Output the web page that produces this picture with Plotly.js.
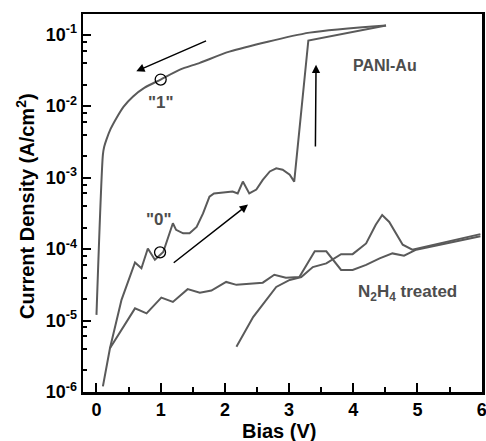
<!DOCTYPE html>
<html>
<head>
<meta charset="utf-8">
<script src="https://cdn.plot.ly/plotly-3.0.1.min.js"></script>
<style>html,body{margin:0;padding:0;background:#fff;}#chart{width:486px;height:441px;}</style>
</head>
<body>
<div id="chart"></div>
<script>
// PANI-Au forward sweep ("0" state, then switching to "1")
const paniFwdV = [0.10,0.21,0.39,0.60,0.70,0.80,0.91,1.04,1.19,1.24,1.35,1.45,1.56,1.66,1.76,1.83,2.12,2.20,2.28,2.38,2.49,2.59,2.70,2.80,2.90,3.01,3.08,3.30,4.51];
const paniFwdJ = [1.2e-6,4.1e-6,1.95e-5,6.5e-5,5.4e-5,1.02e-4,7.1e-5,9.1e-5,2.3e-4,1.86e-4,1.66e-4,1.66e-4,2.04e-4,3.16e-4,5.4e-4,6.0e-4,6.4e-4,6.0e-4,8.8e-4,6.0e-4,6.8e-4,9.3e-4,1.22e-3,1.35e-3,1.29e-3,1.10e-3,8.8e-4,8.3e-2,0.135];
// PANI-Au reverse sweep ("1" state)
const paniRevV = [4.51,3.32,2.07,1.61,1.30,1.00,0.75,0.57,0.42,0.31,0.22,0.155,0.12,0.10,0.0];
const paniRevJ = [0.135,0.107,0.058,0.0404,0.0325,0.0236,0.0182,0.0137,0.0098,0.0068,0.0048,0.0034,0.0027,0.0021,1.2e-5];
// N2H4 treated, two sweeps
const n2h4AV = [0.21,0.60,0.78,1.01,1.19,1.42,1.61,1.79,2.02,2.18,2.59,2.77,2.95,3.16,3.40,3.58,3.81,3.99,4.20,4.41,4.61,4.79,4.98,5.98];
const n2h4AJ = [4.1e-6,1.48e-5,1.26e-5,2.09e-5,1.82e-5,2.75e-5,2.45e-5,2.63e-5,3.47e-5,3.16e-5,3.39e-5,4.37e-5,3.98e-5,4.07e-5,9.3e-5,9.3e-5,5.1e-5,5.1e-5,6.0e-5,7.4e-5,8.7e-5,8.1e-5,9.8e-5,1.51e-4];
const n2h4BV = [2.18,2.44,2.80,3.01,3.19,3.37,3.58,3.81,3.99,4.20,4.35,4.45,4.56,4.77,4.92,5.98];
const n2h4BJ = [4.3e-6,1.12e-5,2.95e-5,3.7e-5,4.07e-5,5.6e-5,6.3e-5,8.5e-5,8.5e-5,1.2e-4,2.19e-4,3.0e-4,2.4e-4,1.15e-4,9.8e-5,1.62e-4];
// read-out circles
const circleV = [1.0, 0.99];
const circleJ = [0.0236, 9.0e-5];
// tick labels
const yTickVals = [1e-6,1e-5,1e-4,1e-3,1e-2,1e-1];
const yTickText = ['10<sup>-6</sup>','10<sup>-5</sup>','10<sup>-4</sup>','10<sup>-3</sup>','10<sup>-2</sup>','10<sup>-1</sup>'];
const yMinorVals = [];
[1e-6,1e-5,1e-4,1e-3,1e-2].forEach(d => [2,4,6,8].forEach(m => yMinorVals.push(m*d)));
const xTickVals = [0,1,2,3,4,5,6];
const xTickText = ['0','1','2','3','4','5','6'];

const gray = '#5a5a5a';
const lineStyle = {color: gray, width: 2};
const font = 'Arial, "Liberation Sans", sans-serif';

const traces = [
  {x: paniFwdV, y: paniFwdJ, mode: 'lines', line: lineStyle, hoverinfo: 'skip'},
  {x: paniRevV, y: paniRevJ, mode: 'lines', line: {color: gray, width: 2, shape: 'spline', smoothing: 0.7}, hoverinfo: 'skip'},
  {x: n2h4AV, y: n2h4AJ, mode: 'lines', line: lineStyle, hoverinfo: 'skip'},
  {x: n2h4BV, y: n2h4BJ, mode: 'lines', line: lineStyle, hoverinfo: 'skip'},
  {x: circleV, y: circleJ, mode: 'markers', marker: {symbol: 'circle-open', size: 11, color: '#000', line: {color: '#000', width: 1.3}}, hoverinfo: 'skip'}
];

function arrow(x0, y0, x1, y1) {
  return {x: x1, y: Math.log10(y1), ax: x0, ay: Math.log10(y0), xref: 'x', yref: 'y', axref: 'x', ayref: 'y',
    text: '', showarrow: true, arrowhead: 2, arrowsize: 1.1, arrowwidth: 1.5, arrowcolor: '#000'};
}
function label(text, x, y, size) {
  return {x: x, y: Math.log10(y), xref: 'x', yref: 'y', text: text, showarrow: false,
    font: {family: font, size: size, color: '#4d4d4d', weight: 'bold'}, xanchor: 'center', yanchor: 'middle'};
}

const annotations = [
  arrow(1.73, 0.0838, 0.62, 0.0309),
  arrow(1.18, 6.2e-5, 2.36, 4.2e-4),
  arrow(3.41, 2.6e-3, 3.42, 0.038),
  label('PANI-Au', 4.50, 0.037, 16),
  label('"1"', 1.0, 0.0114, 17),
  label('"0"', 0.97, 2.6e-4, 17),
  label('N<sub>2</sub>H<sub>4</sub> treated', 4.84, 2.4e-5, 17),
  {x: 0.491, y: -0.104, xref: 'paper', yref: 'paper', text: 'Bias (V)', showarrow: false,
    font: {family: font, size: 20, color: '#000', weight: 'bold'}, xanchor: 'center', yanchor: 'middle'},
  {x: 0, y: 0.492, xref: 'paper', yref: 'paper', xshift: -58, text: 'Current Density (A/cm<sup>2</sup>)', showarrow: false, textangle: -90,
    font: {family: font, size: 20, color: '#000', weight: 'bold'}, xanchor: 'center', yanchor: 'middle'}
];

const layout = {
  width: 486, height: 441,
  margin: {l: 83, r: 4, t: 14, b: 49},
  paper_bgcolor: '#fff', plot_bgcolor: '#fff',
  showlegend: false,
  font: {family: font, color: '#000'},
  xaxis: {
    range: [-0.21, 6.005], showgrid: false, zeroline: false,
    showline: true, linecolor: '#000', linewidth: 2.5, mirror: true,
    ticks: 'inside', ticklen: 9, tickwidth: 2, tickcolor: '#000',
    tickmode: 'array', tickvals: xTickVals, ticktext: xTickText, ticklabeloverflow: 'allow',
    tickfont: {family: font, size: 18, color: '#000', weight: 'bold'},
    minor: {tickmode: 'linear', tick0: 0, dtick: 0.5, ticks: 'inside', ticklen: 5, tickwidth: 2, tickcolor: '#000', showgrid: false}
  },
  yaxis: {
    type: 'log', range: [-6, -0.71], showgrid: false, zeroline: false,
    showline: true, linecolor: '#000', linewidth: 2.5, mirror: true,
    ticks: 'inside', ticklen: 8, tickwidth: 2, tickcolor: '#000',
    tickmode: 'array', tickvals: yTickVals, ticktext: yTickText,
    tickfont: {family: font, size: 18, color: '#000', weight: 'bold'},
    minor: {tickmode: 'array', tickvals: yMinorVals, ticks: 'inside', ticklen: 4, tickwidth: 2, tickcolor: '#000', showgrid: false}
  },
  annotations: annotations
};

Plotly.newPlot('chart', traces, layout, {staticPlot: true, displayModeBar: false});
</script>
</body>
</html>
